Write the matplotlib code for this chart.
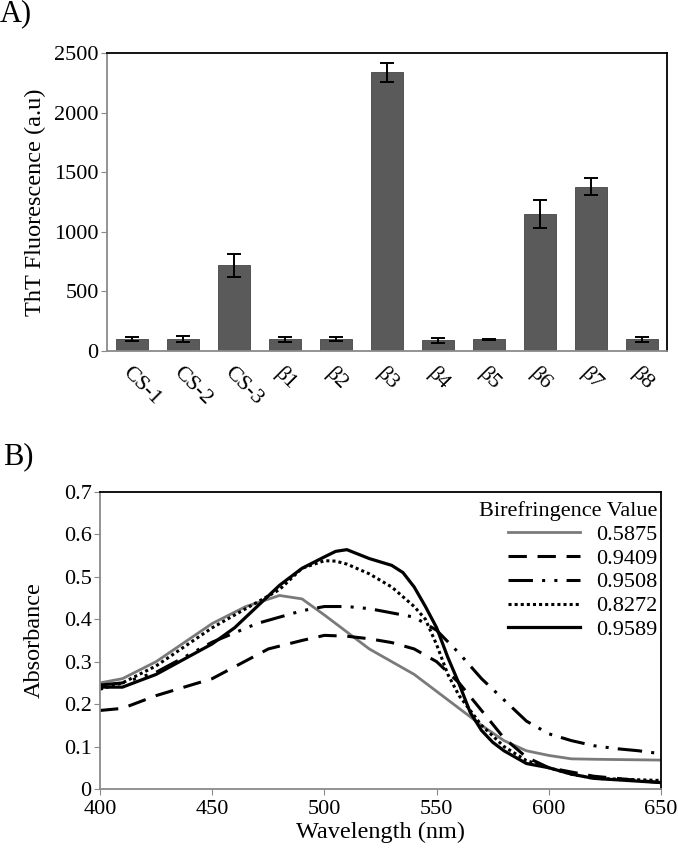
import matplotlib
matplotlib.use("Agg")
import matplotlib.pyplot as plt
import numpy as np

plt.rcParams['font.family'] = ['Liberation Serif', 'DejaVu Serif']

# Panel A data
categories = ["CS-1", "CS-2", "CS-3", "β1", "β2", "β3", "β4", "β5", "β6", "β7", "β8"]
fluorescence = [100, 100, 720, 100, 100, 2340, 90, 100, 1150, 1380, 100]
errors = [15, 25, 95, 20, 15, 80, 20, 5, 115, 75, 20]

# Panel B data
wl_gray = [400, 410, 425, 450, 465, 480, 490, 500, 510, 520, 530, 540, 550, 560, 570, 580, 590, 600, 610, 620, 650]
abs_0_5875 = [0.25, 0.26, 0.30, 0.39, 0.43, 0.456, 0.448, 0.41, 0.37, 0.33, 0.30, 0.27, 0.23, 0.19, 0.15, 0.114, 0.09, 0.079, 0.071, 0.07, 0.068]

wl_dash = [400, 410, 425, 450, 475, 490, 500, 510, 520, 530, 540, 550, 560, 570, 580, 590, 600, 610, 620, 650]
abs_0_9409 = [0.185, 0.19, 0.22, 0.26, 0.33, 0.35, 0.362, 0.36, 0.354, 0.345, 0.33, 0.30, 0.25, 0.185, 0.12, 0.075, 0.05, 0.04, 0.03, 0.015]

wl_dashdot = [400, 410, 425, 450, 470, 480, 490, 500, 510, 520, 530, 540, 550, 560, 570, 580, 590, 600, 610, 620, 630, 640, 650]
abs_0_9508 = [0.245, 0.25, 0.275, 0.346, 0.39, 0.405, 0.42, 0.43, 0.43, 0.425, 0.415, 0.405, 0.374, 0.32, 0.26, 0.21, 0.16, 0.13, 0.114, 0.102, 0.095, 0.09, 0.083]

wl_dot = [400, 410, 425, 450, 460, 470, 480, 490, 500, 505, 510, 520, 530, 540, 545, 550, 555, 560, 570, 580, 590, 600, 610, 620, 650]
abs_0_8272 = [0.235, 0.25, 0.29, 0.38, 0.41, 0.44, 0.47, 0.52, 0.538, 0.537, 0.53, 0.507, 0.476, 0.43, 0.40, 0.34, 0.27, 0.22, 0.15, 0.10, 0.067, 0.05, 0.035, 0.025, 0.02]

wl_solid = [400, 410, 425, 450, 460, 470, 480, 490, 500, 505, 510, 520, 530, 535, 540, 545, 550, 555, 560, 565, 570, 575, 580, 590, 600, 610, 620, 650]
abs_0_9589 = [0.24, 0.24, 0.27, 0.342, 0.38, 0.43, 0.48, 0.52, 0.547, 0.56, 0.564, 0.543, 0.527, 0.51, 0.476, 0.43, 0.38, 0.31, 0.248, 0.18, 0.138, 0.11, 0.09, 0.06, 0.05, 0.035, 0.025, 0.015]

legend_title = "Birefringence Value"

GRAY_SPINE = '#8a8a8a'
TICK_FS = 16
LABEL_FS = 17.5

fig = plt.figure(figsize=(6.78, 8.51), dpi=100)


def style_spines(ax):
    ax.spines['left'].set_color(GRAY_SPINE)
    ax.spines['bottom'].set_color(GRAY_SPINE)
    ax.spines['top'].set_color('black')
    ax.spines['right'].set_color('black')
    for s in ax.spines.values():
        s.set_linewidth(1.3)


# Panel A
ax1 = fig.add_axes([0.1578, 0.5875, 0.826, 0.3502])
x = np.arange(len(categories))
ax1.bar(x, fluorescence, width=0.63, color='#5a5a5a', edgecolor='#444444', linewidth=0.6,
        yerr=errors, capsize=5, error_kw=dict(ecolor='black', elinewidth=1.4, capthick=1.4))
ax1.set_xlim(-0.5, len(categories) - 0.5)
ax1.set_ylim(0, 2500)
ax1.set_yticks([0, 500, 1000, 1500, 2000, 2500])
ax1.set_xticks(x)
ax1.set_xticklabels(categories, rotation=-45, ha='left', va='top', rotation_mode='anchor', fontsize=TICK_FS)
ax1.tick_params(axis='x', length=0, pad=9)
ax1.tick_params(axis='y', labelsize=TICK_FS, length=4, direction='out', color=GRAY_SPINE, pad=2)
ax1.set_ylabel("ThT Fluorescence (a.u)", fontsize=LABEL_FS, labelpad=6)
style_spines(ax1)
fig.text(0.0, 0.984, "A)", fontsize=22, va='center', ha='left')

# Panel B
ax2 = fig.add_axes([0.1475, 0.0729, 0.8275, 0.349])
ax2.plot(wl_gray, abs_0_5875, color='#7a7a7a', lw=2.0, ls='-', label='0.5875')
ax2.plot(wl_dash, abs_0_9409, color='black', lw=2.2, ls=(0, (6, 3.5)), label='0.9409')
ax2.plot(wl_dashdot, abs_0_9508, color='black', lw=2.2, ls=(0, (8, 3, 1, 3, 1, 3)), label='0.9508')
ax2.plot(wl_dot, abs_0_8272, color='black', lw=2.2, ls=(0, (1, 1)), label='0.8272')
ax2.plot(wl_solid, abs_0_9589, color='black', lw=2.3, ls='-', label='0.9589')
ax2.set_xlim(400, 650)
ax2.set_ylim(0, 0.7)
ax2.set_xticks([400, 450, 500, 550, 600, 650])
ax2.set_yticks([0, 0.1, 0.2, 0.3, 0.4, 0.5, 0.6, 0.7])
ax2.set_yticklabels(["0", "0.1", "0.2", "0.3", "0.4", "0.5", "0.6", "0.7"])
ax2.tick_params(axis='y', labelsize=TICK_FS, length=4, direction='out', color=GRAY_SPINE, pad=2)
ax2.tick_params(axis='x', labelsize=TICK_FS, length=4, direction='out', color=GRAY_SPINE, pad=4)
ax2.set_xlabel("Wavelength (nm)", fontsize=LABEL_FS, labelpad=2)
ax2.set_ylabel("Absorbance", fontsize=LABEL_FS, labelpad=14)
style_spines(ax2)
leg = ax2.legend(title=legend_title, loc='upper right', bbox_to_anchor=(0.993, 0.97),
                 frameon=False, fontsize=TICK_FS, title_fontsize=TICK_FS,
                 handlelength=3.25, labelspacing=0.15, borderaxespad=0, borderpad=0,
                 handletextpad=0.7)
leg._legend_box.align = "right"
fig.text(0.005, 0.463, "B)", fontsize=22, va='center', ha='left')

fig.savefig("out.png", dpi=100)
